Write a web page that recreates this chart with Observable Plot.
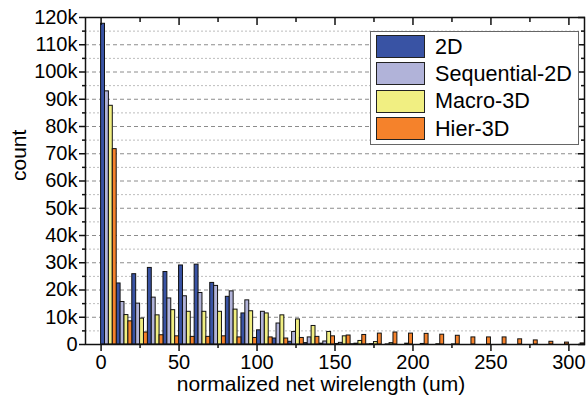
<!DOCTYPE html>
<html><head><meta charset="utf-8">
<script src="https://cdn.jsdelivr.net/npm/d3@7"></script>
<script src="https://cdn.jsdelivr.net/npm/@observablehq/plot@0.6"></script>
<style>
body{margin:0;background:#fff;}
#wrap{position:relative;width:587px;height:405px;font-family:"Liberation Sans",Arial,sans-serif;}
.legend{position:absolute;left:370px;top:31px;width:209px;height:114px;border:1.5px solid #666;background:#fff;box-sizing:border-box;}
.row{position:absolute;left:5px;height:23px;display:flex;align-items:center;}
.sw{width:49px;height:23px;border:1.5px solid #222;box-sizing:border-box;}
.lab{margin-left:10px;font-size:21.6px;color:#000;}
</style></head><body><div id="wrap"></div>
<script>
// bin starts (normalized net wirelength, um)
const bins = [0,10,20,30,40,50,60,70,80,90,100,110,120,130,140,150,160,170,180,190,200,210,220,230,240,250,260,270,280,290,300];
const series = ["2D","Sequential-2D","Macro-3D","Hier-3D"];
const colors = ["#3953a4","#b1b3d9","#f1ef82","#f5822b"];
// counts in thousands
const v2D    = [117.7,22.4,25.8,28.1,26.6,29.0,29.3,22.6,17.5,11.4,5.2,2.2,1.0,0.5,0.3,0.2,0.1,0.05,0,0,0,0,0,0,0,0,0,0,0,0,0];
const vSeq2D = [92.9,15.6,15.0,17.2,16.9,17.7,18.9,21.5,19.5,16.2,12.0,7.7,4.6,2.6,1.1,0.6,0.3,0.15,0.05,0,0,0,0,0,0,0,0,0,0,0,0];
const vMacro = [87.6,10.8,9.5,10.7,12.6,12.0,12.0,12.0,12.8,12.2,11.4,10.7,9.2,6.8,4.6,3.0,1.3,0.9,0.5,0.3,0.2,0.1,0.05,0,0,0,0,0,0,0,0];
const vHier  = [71.7,8.5,4.4,3.4,3.0,2.8,2.8,3.0,2.6,2.4,2.6,2.2,2.4,2.8,3.0,3.3,3.5,4.0,4.4,4.0,3.9,3.6,3.2,2.6,2.6,2.6,1.9,1.5,1.0,0.7,0.4];
const values = [v2D, vSeq2D, vMacro, vHier];
const xMajor = [0,50,100,150,200,250,300];
const xMinor = [25,75,125,175,225,275];
const yMajor = [0,10,20,30,40,50,60,70,80,90,100,110,120];
const yMinor = [5,15,25,35,45,55,65,75,85,95,105,115];
const barW = 2.5;

const data = [];
series.forEach((s, i) => {
  values[i].forEach((v, j) => {
    data.push({series: s, x1: bins[j] + i * barW, x2: bins[j] + (i + 1) * barW, y: v});
  });
});

const font = "Liberation Sans, Arial, sans-serif";
const plot = Plot.plot({
  width: 587, height: 405,
  marginLeft: 85, marginRight: 3, marginTop: 17, marginBottom: 61,
  style: {fontFamily: font, fontSize: "20px", color: "#000", background: "#fff", overflow: "visible"},
  x: {domain: [-10, 310], label: null},
  y: {domain: [0, 120], label: null},
  color: {domain: series, range: colors},
  marks: [
    Plot.ruleY(yMinor, {stroke: "#bdbdbd", strokeDasharray: "2,2", strokeWidth: 1}),
    Plot.ruleY(yMajor.filter(d => d > 0 && d < 120), {stroke: "#8c8c8c", strokeDasharray: "4,3", strokeWidth: 1}),
    Plot.rectY(data.filter(d => d.y > 0), {x1: "x1", x2: "x2", y: "y", fill: "series", stroke: "#111", strokeWidth: 1}),
    Plot.frame({stroke: "#111", strokeWidth: 1.5}),
    Plot.axisX({ticks: xMajor, tickSize: 7, tickPadding: 3, fontSize: 20, label: null, stroke: "#111", strokeWidth: 1.5}),
    Plot.axisX({ticks: xMinor, tickSize: 4, tickFormat: () => "", label: null, stroke: "#111", strokeWidth: 1.5}),
    Plot.axisX({anchor: "top", ticks: xMajor, tickSize: -7, tickFormat: () => "", label: null, stroke: "#111", strokeWidth: 1.5}),
    Plot.axisX({anchor: "top", ticks: xMinor, tickSize: -4, tickFormat: () => "", label: null, stroke: "#111", strokeWidth: 1.5}),
    Plot.axisY({ticks: yMajor, tickSize: 6, tickPadding: 2, fontSize: 20, tickFormat: d => d === 0 ? "0" : d + "k", label: null, stroke: "#111", strokeWidth: 1.5}),
    Plot.axisY({ticks: yMinor, tickSize: 3, tickFormat: () => "", label: null, stroke: "#111", strokeWidth: 1.5}),
    Plot.axisY({anchor: "right", ticks: yMajor, tickSize: -7, tickFormat: () => "", label: null, stroke: "#111", strokeWidth: 1.5}),
    Plot.axisY({anchor: "right", ticks: yMinor, tickSize: -4, tickFormat: () => "", label: null, stroke: "#111", strokeWidth: 1.5}),
    Plot.text(["normalized net wirelength (um)"], {frameAnchor: "bottom", dx: -14, dy: 46, text: d => d, fontSize: 21, fill: "#000"}),
    Plot.text(["count"], {frameAnchor: "left", rotate: -90, dx: -66, text: d => d, fontSize: 21, fill: "#000"})
  ]
});

const wrap = document.getElementById("wrap");
wrap.appendChild(plot);
const leg = document.createElement("div");
leg.className = "legend";
series.forEach((s, i) => {
  const row = document.createElement("div");
  row.className = "row";
  row.style.top = (3 + i * 27.4) + "px";
  const sw = document.createElement("div");
  sw.className = "sw";
  sw.style.background = colors[i];
  const lab = document.createElement("span");
  lab.className = "lab";
  lab.textContent = s;
  row.appendChild(sw); row.appendChild(lab);
  leg.appendChild(row);
});
wrap.appendChild(leg);
</script>
</body></html>
